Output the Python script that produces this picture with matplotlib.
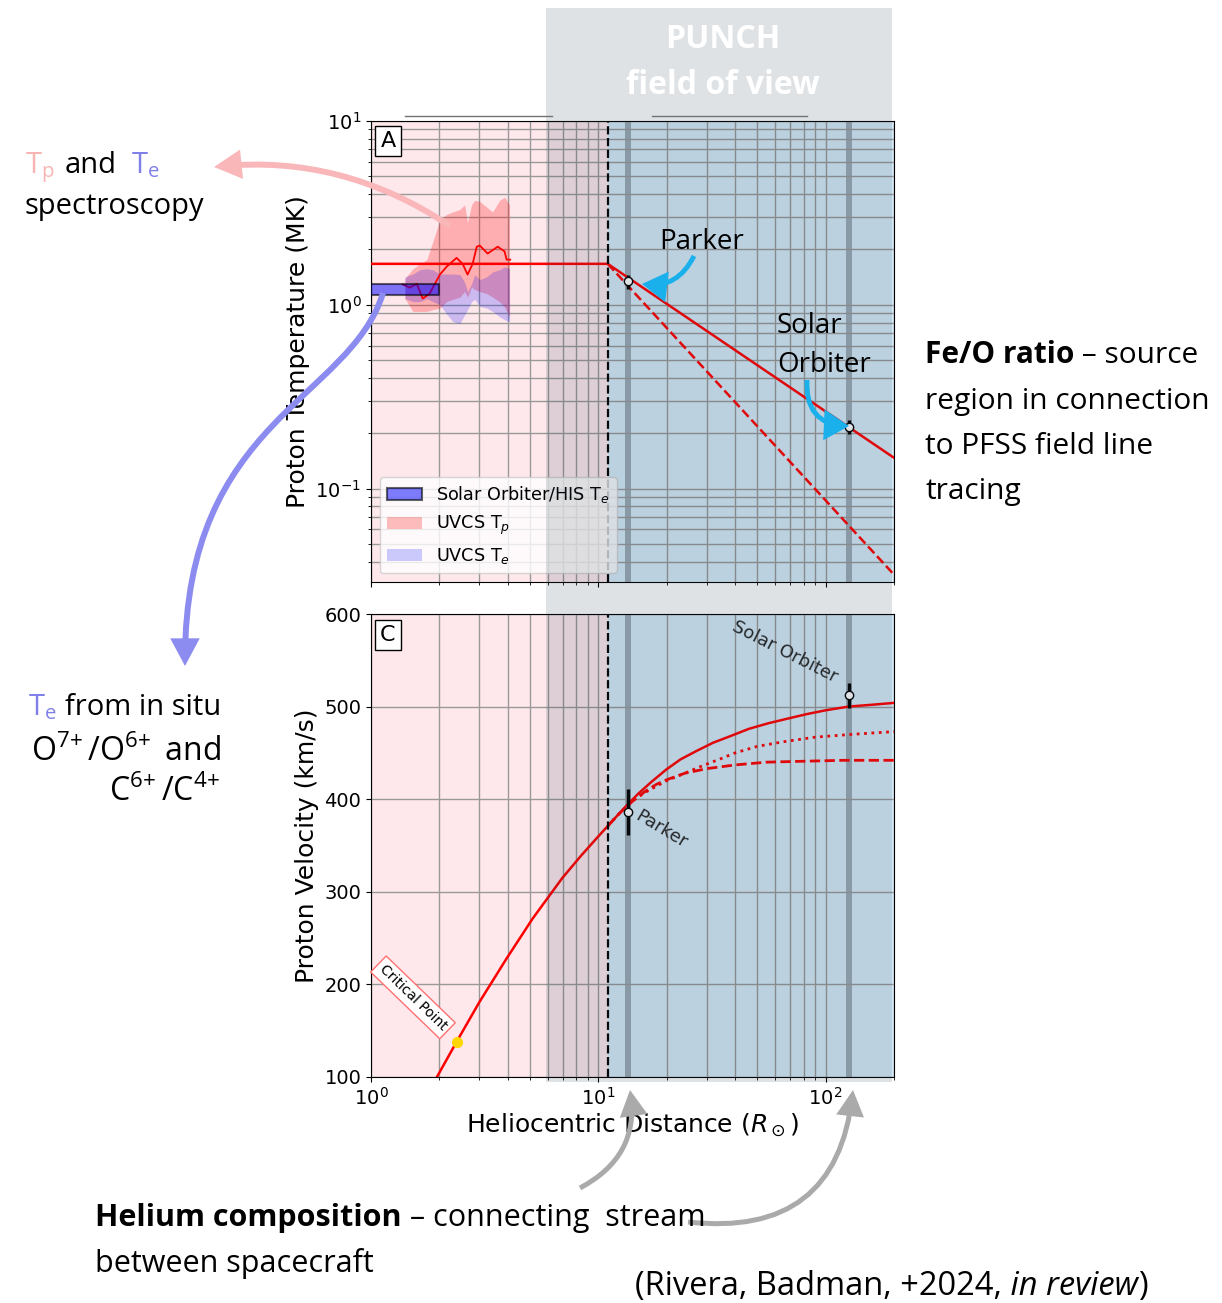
import numpy as np
import matplotlib
matplotlib.use("Agg")
from matplotlib import pyplot as plt
from matplotlib.patches import Rectangle, FancyArrowPatch, Patch
from matplotlib.path import Path

# ---------------- values ----------------
r_edge = 11.0
r_max = 200.0

sc_r = [13.5, 127.0]            # Parker, Solar Orbiter
sc_temp = [1.34, 0.216]
sc_temp_err = [0.12, 0.019]
sc_vel = [386.0, 512.0]
sc_vel_err = [25.0, 14.0]

model_t_r = [1.0, 11.0, 200.0]
model_t = [1.67, 1.67, 0.147]
adiab_t_r = [11.0, 200.0]
adiab_t = [1.67, 0.034]

his_r = [1.0, 2.0]
his_te_lo = [1.13, 1.13]
his_te_hi = [1.30, 1.30]

uvcs_r = [1.41, 1.53, 1.64, 1.76, 1.87, 2.01, 2.15, 2.29, 2.46, 2.58,
          2.66, 2.77, 2.86, 3.01, 3.23, 3.43, 3.68, 3.87, 4.07]
uvcs_tp_hi = [1.39, 1.57, 1.67, 1.76, 2.20, 2.90, 3.10, 3.20, 3.30, 3.50,
              2.80, 3.50, 3.70, 3.65, 3.40, 3.20, 3.70, 3.85, 3.50]
uvcs_tp_lo = [1.08, 0.92, 0.92, 0.92, 0.94, 0.96, 1.04, 1.07, 1.10, 1.18,
              1.10, 1.25, 1.21, 1.18, 1.15, 1.10, 1.04, 0.97, 0.86]
uvcs_te_hi = [1.42, 1.47, 1.55, 1.57, 1.55, 1.47, 1.47, 1.47, 1.46, 1.33,
              1.18, 1.30, 1.46, 1.37, 1.42, 1.51, 1.55, 1.61, 1.57]
uvcs_te_lo = [1.08, 1.04, 1.04, 1.08, 1.04, 1.00, 0.89, 0.81, 0.79, 0.88,
              0.94, 1.04, 1.07, 0.98, 0.96, 0.92, 0.86, 0.83, 0.81]
uvcs_tp_line_r = [1.38, 1.48, 1.59, 1.69, 1.81, 2.01, 2.15, 2.38, 2.53,
                  2.66, 2.80, 2.92, 3.01, 3.26, 3.61, 3.87, 3.95, 4.10]
uvcs_tp_line = [1.29, 1.24, 1.30, 1.08, 1.15, 1.46, 1.61, 1.80, 1.67,
                1.46, 1.67, 2.07, 2.10, 1.90, 2.07, 1.95, 1.76, 1.76]

vel_r = [1.95, 2.38, 3.0, 3.95, 5.14, 6.95, 8.4, 10.1, 11.0, 12.2, 13.3,
         15.0, 17.0, 19.9, 23.0, 27.0, 32.0, 38.0, 46.0, 56.0, 68.0, 83.0,
         100.0, 126.0, 160.0, 200.0]
vel = [100, 138, 181, 228, 271, 315, 339, 361, 371, 383, 393,
       406, 418, 432, 443, 452, 461, 468, 476, 482, 487, 492,
       496, 500, 502, 504]
vel_dot_r = [11.0, 12.2, 13.3, 14.5, 16.0, 18.0, 20.0, 24.0, 28.0, 34.0,
             40.0, 50.0, 65.0, 90.0, 130.0, 200.0]
vel_dot = [371, 383, 392, 400, 407, 414, 420, 428, 435, 443,
           450, 457, 462, 467, 470, 473]
vel_dash_r = [11.0, 12.2, 13.3, 14.5, 16.0, 18.0, 20.0, 24.0, 30.0, 40.0,
              55.0, 80.0, 120.0, 200.0]
vel_dash = [371, 383, 392, 400, 408, 416, 421, 428, 433, 437,
            440, 441, 442, 442]

crit_r, crit_v = 2.38, 138

# ---------------- styling ----------------
SLIDE = 'Open Sans'
PINK_BG = '#fee8ec'
BLUE_BG = '#d5ebf8'
BAND = '#9aaab5'
GRID = '0.6'

W, H = 1222, 1303
fig = plt.figure(figsize=(W / 100, H / 100), dpi=100)


def fbox(x0, y0, x1, y1):
    return [x0 / W, 1 - y1 / H, (x1 - x0) / W, (y1 - y0) / H]


axT = fig.add_axes(fbox(371, 121, 894, 582))
axV = fig.add_axes(fbox(371, 614, 894, 1077), sharex=axT)

for ax in (axT, axV):
    ax.set_xscale('log')
    ax.set_xlim(1, r_max)
    ax.axvspan(1, r_edge, color=PINK_BG, lw=0, zorder=0)
    ax.axvspan(r_edge, r_max, color=BLUE_BG, lw=0, zorder=0)
    for r in sc_r:
        ax.axvline(r, color=BAND, lw=4.3, zorder=1.2)
    ax.axvline(r_edge, color='k', ls='--', lw=1.6, zorder=4)
    ax.tick_params(labelsize=14)

# ---- panel A: temperature ----
axT.set_yscale('log')
axT.set_ylim(0.031, 10)
axT.grid(which='both', color=GRID, lw=1)
axT.tick_params(labelbottom=False)

axT.fill_between(uvcs_r, uvcs_tp_lo, uvcs_tp_hi, color='red', alpha=0.25, lw=0, zorder=2)
axT.fill_between(uvcs_r, uvcs_te_lo, uvcs_te_hi, color='blue', alpha=0.2, lw=0, zorder=2)
axT.plot(uvcs_tp_line_r, uvcs_tp_line, color='red', lw=1.3, zorder=3)
axT.fill_between(his_r, his_te_lo, his_te_hi, facecolor=(0, 0, 1, 0.5),
                 edgecolor=(0, 0, 0, 0.6), lw=1.5, zorder=3)
axT.plot(model_t_r, model_t, color='red', lw=1.8, zorder=3)
axT.plot(adiab_t_r, adiab_t, color='red', ls='--', lw=1.8, zorder=3)
axT.errorbar(sc_r, sc_temp, yerr=sc_temp_err, fmt='o', mfc='white', mec='k',
             ms=6, ecolor='k', elinewidth=2.5, zorder=5)

handles = [Patch(facecolor=(0, 0, 1, 0.5), edgecolor=(0, 0, 0, 0.6), lw=1.5),
           Patch(facecolor='red', alpha=0.25, lw=0),
           Patch(facecolor='blue', alpha=0.2, lw=0)]
labels = ['Solar Orbiter/HIS T$_e$', 'UVCS T$_p$', 'UVCS T$_e$']
axT.legend(handles, labels, loc='lower left', fontsize=12.7)
axT.set_ylabel('Proton Temperature (MK)', fontsize=18)
axT.text(0.0325, 0.957, 'A', transform=axT.transAxes, fontsize=16,
         ha='center', va='center',
         bbox=dict(boxstyle='square,pad=0.22', fc='white', ec='k'))

# ---- panel C: velocity ----
axV.set_ylim(100, 600)
axV.set_yticks([100, 200, 300, 400, 500, 600])
axV.grid(which='major', color=GRID, lw=1)
axV.grid(which='minor', axis='x', color=GRID, lw=1)
axV.plot(vel_r, vel, color='red', lw=1.8, zorder=3)
axV.plot(vel_dot_r, vel_dot, color='red', ls=':', lw=2, zorder=3)
axV.plot(vel_dash_r, vel_dash, color='red', ls='--', lw=2, zorder=3)
axV.errorbar(sc_r, sc_vel, yerr=sc_vel_err, fmt='o', mfc='white', mec='k',
             ms=6, ecolor='k', elinewidth=2.5, zorder=5)
axV.plot(crit_r, crit_v, 'o', color='gold', ms=7, zorder=5)
axV.text(66, 559, 'Solar Orbiter', rotation=-27, fontsize=13, color='0.15',
         ha='center', va='center')
axV.text(18.9, 367, 'Parker', rotation=-31, fontsize=13, color='0.15',
         ha='center', va='center')
axV.text(1.53, 186, 'Critical Point', rotation=-44, fontsize=10,
         ha='center', va='center',
         bbox=dict(boxstyle='square,pad=0.3', fc='white', ec='#ff7070', lw=1))
axV.set_ylabel('Proton Velocity (km/s)', fontsize=18)
axV.set_xlabel(r'Heliocentric Distance ($R_\odot$)', fontsize=18, labelpad=2)
axV.text(0.0325, 0.9546, 'C', transform=axV.transAxes, fontsize=16,
         ha='center', va='center',
         bbox=dict(boxstyle='square,pad=0.22', fc='white', ec='k'))

# ---------------- slide overlay (pixel coordinates) ----------------
ov = fig.add_axes([0, 0, 1, 1], zorder=5)
ov.set_xlim(0, W)
ov.set_ylim(H, 0)
ov.set_axis_off()
ov.patch.set_alpha(0)

ov.add_patch(Rectangle((546, 8), 346, 1074, color=(42 / 255, 62 / 255, 82 / 255),
                       alpha=0.15, lw=0))
ov.plot([405, 552], [116, 116], color='0.45', lw=1)
ov.plot([652, 807], [116, 116], color='0.45', lw=1)
ov.text(723, 40, 'PUNCH', color='white', fontsize=23, fontweight='bold',
        ha='center', va='center', family=SLIDE)
ov.text(723, 86, 'field of view', color='white', fontsize=23, fontweight='bold',
        ha='center', va='center', family=SLIDE)


def arrow(p0, p1, color, rad=0.0, lw=4.3, hl=0.6, hw=0.32, ms=22, path=None):
    kw = dict(arrowstyle=f'-|>,head_length={hl},head_width={hw}',
              mutation_scale=ms, color=color, lw=lw, joinstyle='miter',
              capstyle='butt')
    if path is not None:
        a = FancyArrowPatch(path=path, **kw)
    else:
        a = FancyArrowPatch(p0, p1, connectionstyle=f'arc3,rad={rad}',
                            shrinkA=0, shrinkB=0, **kw)
    ov.add_patch(a)


PINK_A = '#f9b7b9'
PURP_A = '#8c8cf0'
CYAN_A = '#19b0ec'
GREY_A = '#aaaaaa'

arrow((450, 226), (214, 167), PINK_A, rad=0.18)
arrow(None, None, PURP_A, path=Path([(383, 293), (350, 400), (185, 420), (185, 666)],
                                    [Path.MOVETO, Path.CURVE4, Path.CURVE4, Path.CURVE4]))
arrow((694, 256), (642, 284), CYAN_A, rad=-0.35, lw=3.5, hl=0.65, hw=0.4, ms=20)
arrow((807, 380), (849, 426), CYAN_A, rad=0.5, lw=3.5, hl=0.65, hw=0.4, ms=20)
arrow((580, 1188), (630, 1090), GREY_A, rad=0.35, lw=3.6)
arrow((688, 1222), (853, 1090), GREY_A, rad=0.5, lw=3.6)

FS = 20        # spacecraft labels
FS_L = 21      # left column
FS_R = 21.5    # right block
FS_B = 22      # bottom block
FS_C = 23.5    # citation

# left column
ov.text(25, 173, r'T$_\mathregular{p}$', color='#f9b4b4', fontsize=FS_L, family=SLIDE, va='baseline')
ov.text(65, 173, 'and', color='k', fontsize=FS_L, family=SLIDE, va='baseline')
ov.text(131, 173, r'T$_\mathregular{e}$', color='#8080e8', fontsize=FS_L, family=SLIDE, va='baseline')
ov.text(25, 214, 'spectroscopy', color='k', fontsize=FS_L, family=SLIDE, va='baseline')

ov.text(28, 715, r'T$_\mathregular{e}$', color='#8080e8', fontsize=FS_L, family=SLIDE, va='baseline')
ov.text(221, 715, 'from in situ', color='k', fontsize=FS_L, family=SLIDE, va='baseline', ha='right')
ov.text(221, 761, r'O$^{\mathregular{7{+}}}\,$/O$^{\mathregular{6{+}}}\,$ and', color='k',
        fontsize=23, family=SLIDE, va='baseline', ha='right')
ov.text(220, 801, r'C$^{\mathregular{6{+}}}\,$/C$^{\mathregular{4{+}}}$', color='k',
        fontsize=23, family=SLIDE, va='baseline', ha='right')

# spacecraft labels
ov.text(659, 249, 'Parker', fontsize=FS, family=SLIDE, va='baseline')
ov.text(777, 333, 'Solar', fontsize=FS, family=SLIDE, va='baseline')
ov.text(777, 372, 'Orbiter', fontsize=FS, family=SLIDE, va='baseline')

# right block
t = ov.text(925, 363, 'Fe/O ratio', fontsize=FS_R, family=SLIDE, fontweight='bold', va='baseline')
ov.annotate(' \u2013 source', xy=(1, 0), xycoords=t, fontsize=FS_R, family=SLIDE, va='bottom')
ov.text(925, 409, 'region in connection', fontsize=FS_R, family=SLIDE, va='baseline')
ov.text(925, 454, 'to PFSS field line', fontsize=FS_R, family=SLIDE, va='baseline')
ov.text(925, 499, 'tracing', fontsize=FS_R, family=SLIDE, va='baseline')

# bottom block
t = ov.text(95, 1226, 'Helium composition', fontsize=FS_B, family=SLIDE, fontweight='bold', va='baseline')
ov.annotate(' \u2013 connecting  stream', xy=(1, 0), xycoords=t, fontsize=FS_B, family=SLIDE, va='bottom')
ov.text(95, 1272, 'between spacecraft', fontsize=FS_B, family=SLIDE, va='baseline')
t = ov.text(635, 1295, '(Rivera, Badman, +2024,', fontsize=FS_C, family=SLIDE, va='baseline')
t = ov.annotate(' in review', xy=(1, 0), xycoords=t, fontsize=FS_C, family=SLIDE,
                style='italic', va='bottom')
ov.annotate(')', xy=(1, 0), xycoords=t, fontsize=FS_C, family=SLIDE, va='bottom')

fig.savefig('out.png', dpi=100)
